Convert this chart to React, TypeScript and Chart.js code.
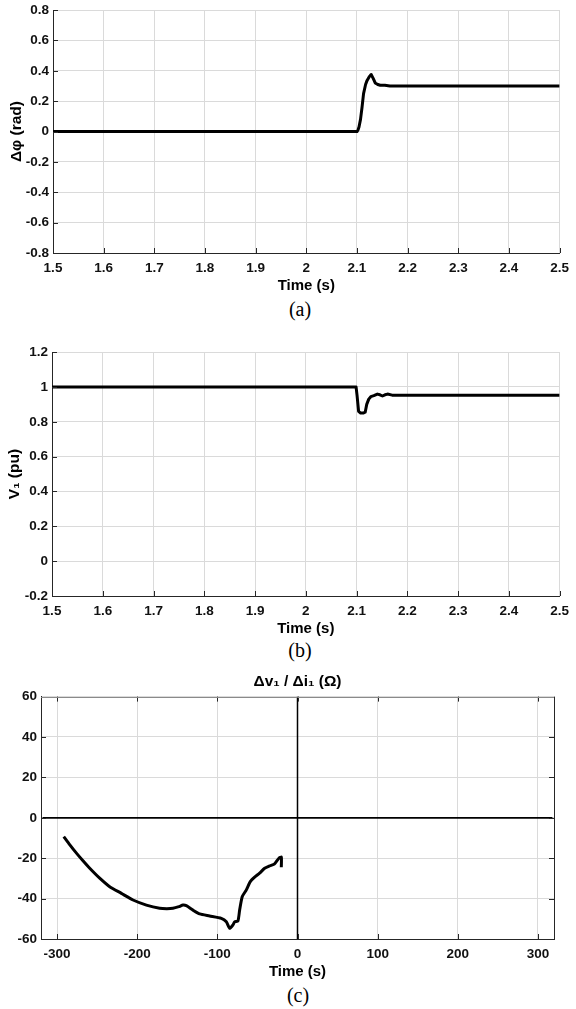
import React, { useEffect, useRef } from "react";
import { Chart, registerables } from "chart.js";

Chart.register(...registerables);

// ---------- data ----------
const phaseTime = [1.5, 2.1, 2.102, 2.104, 2.107, 2.11, 2.113, 2.117, 2.12, 2.124, 2.128, 2.132, 2.136, 2.141, 2.146, 2.155, 2.165, 2.2, 2.5];
const phaseValues = [0, 0, 0.01, 0.03, 0.08, 0.16, 0.25, 0.31, 0.337, 0.36, 0.376, 0.35, 0.32, 0.31, 0.305, 0.305, 0.3, 0.3, 0.3];

const voltTime = [1.5, 2.099, 2.101, 2.104, 2.108, 2.113, 2.117, 2.12, 2.124, 2.128, 2.134, 2.141, 2.146, 2.151, 2.156, 2.161, 2.17, 2.5];
const voltValues = [1, 1, 0.95, 0.86, 0.85, 0.85, 0.855, 0.9, 0.93, 0.944, 0.95, 0.959, 0.955, 0.948, 0.955, 0.959, 0.953, 0.953];

const impX = [-291.6, -284, -275.8, -267.6, -259.2, -246.8, -234.3, -219.7, -205.2, -188.5, -172, -163, -155.4, -148, -142.9, -138.7, -130.4, -122, -109.6, -95, -88.8, -84.7, -80.5, -78.4, -74.3, -72.2, -68.9, -63.8, -58.9, -53.5, -47.3, -41, -34.8, -28.6, -23.2, -20.2, -20.2];
const impY = [-9.3, -13.4, -17.5, -21.3, -25, -29.9, -34.1, -37.4, -40.7, -43.2, -44.8, -45, -44.8, -44, -43.2, -43.5, -45.7, -47.6, -48.6, -49.8, -51.5, -54.7, -53, -51.5, -51, -45.7, -39, -35.7, -31.6, -29.4, -27.4, -25, -23.8, -22.8, -20, -19.5, -24.5];

const zeroLineX = [-318, 318];
const zeroLineY = [-60, 60];

const timeRange = [1.5, 2.5];
const phaseRange = [-0.8, 0.8];
const voltRange = [-0.2, 1.2];
const impXRange = [-320, 320];
const impYRange = [-60, 60];

const captions = ["(a)", "(b)", "(c)"];

// ---------- styles ----------
const FONT = "'Liberation Sans', Arial, 'DejaVu Sans', sans-serif";
const GRID = "#dadada";
const AXIS = "#262626";

const fmt = (v: number) => String(Math.round(v * 100) / 100);

const inwardTicks = {
  id: "inwardTicks",
  afterDatasetsDraw(chart: any, _args: any, opts: any) {
    const { ctx, chartArea: a, scales } = chart;
    const len = 5;
    ctx.save();
    ctx.strokeStyle = AXIS;
    ctx.lineWidth = 1;
    const seg = (x1: number, y1: number, x2: number, y2: number) => {
      ctx.beginPath();
      ctx.moveTo(x1, y1);
      ctx.lineTo(x2, y2);
      ctx.stroke();
    };
    const xs = scales.x;
    const ys = scales.y;
    xs.ticks.forEach((t: any) => {
      const px = Math.round(xs.getPixelForValue(t.value)) + 0.5;
      seg(px, a.bottom, px, a.bottom - len);
      if (opts && opts.box) seg(px, a.top, px, a.top + len);
    });
    ys.ticks.forEach((t: any) => {
      const py = Math.round(ys.getPixelForValue(t.value)) + 0.5;
      seg(a.left, py, a.left + len, py);
      if (opts && opts.box) seg(a.right, py, a.right - len, py);
    });
    if (opts && opts.box) {
      seg(Math.round(a.right) + 0.5, a.top, Math.round(a.right) + 0.5, a.bottom);
      ctx.strokeStyle = "#8a8a8a";
      seg(a.left, Math.round(a.top) + 0.5, a.right, Math.round(a.top) + 0.5);
    }
    ctx.restore();
  },
};

function xAxis(min: number, max: number, step: number) {
  return {
    type: "linear",
    min,
    max,
    afterFit: (s: any) => {
      s.height = 42;
    },
    ticks: {
      stepSize: step,
      includeBounds: false,
      padding: 7,
      maxRotation: 0,
      autoSkip: false,
      color: "#111",
      font: { family: FONT, size: 13.5, weight: "bold" },
      callback: (v: any) => fmt(Number(v)),
    },
    grid: { color: GRID, lineWidth: 1, drawTicks: false },
    border: { display: true, color: AXIS, width: 1 },
    title: {
      display: true,
      text: "Time (s)",
      color: "#000",
      font: { family: FONT, size: 15, weight: "bold" },
      padding: { top: 1, bottom: 0 },
    },
  };
}

function yAxis(min: number, max: number, step: number, width: number, title: string | null, titlePad: number) {
  return {
    type: "linear",
    min,
    max,
    afterFit: (s: any) => {
      s.width = width;
    },
    ticks: {
      stepSize: step,
      includeBounds: false,
      padding: 4,
      color: "#111",
      font: { family: FONT, size: 13.5, weight: "bold" },
      callback: (v: any) => fmt(Number(v)),
    },
    grid: { color: GRID, lineWidth: 1, drawTicks: false },
    border: { display: true, color: AXIS, width: 1 },
    title: title
      ? {
          display: true,
          text: title,
          color: "#000",
          font: { family: FONT, size: 15.5, weight: "bold" },
          padding: { top: titlePad, bottom: 0 },
        }
      : { display: false },
  };
}

function pairs(xs: number[], ys: number[]) {
  return xs.map((x, i) => ({ x, y: ys[i] }));
}

function ChartCanvas({ top, height, config }: { top: number; height: number; config: () => any }) {
  const ref = useRef<HTMLCanvasElement | null>(null);
  useEffect(() => {
    if (!ref.current) return;
    const chart = new Chart(ref.current, config());
    return () => chart.destroy();
  }, []);
  return (
    <canvas
      ref={ref}
      width={576}
      height={height}
      style={{ position: "absolute", left: 0, top, width: 576, height }}
    />
  );
}

const lineDs = (data: any[], width: number, tension = 0) => ({
  data,
  borderColor: "#000",
  backgroundColor: "#000",
  borderWidth: width,
  pointRadius: 0,
  tension,
  fill: false,
  borderJoinStyle: "round",
});

function configA() {
  return {
    type: "line",
    data: { datasets: [lineDs(pairs(phaseTime, phaseValues), 3)] },
    plugins: [inwardTicks],
    options: {
      animation: false,
      responsive: false,
      layout: { padding: { top: 0, right: 9, left: 0, bottom: 0 } },
      plugins: { legend: { display: false }, tooltip: { enabled: false }, inwardTicks: { box: false } },
      scales: {
        x: xAxis(timeRange[0], timeRange[1], 0.1),
        y: yAxis(phaseRange[0], phaseRange[1], 0.2, 53, "Δφ (rad)", 7),
      },
    },
  };
}

function configB() {
  return {
    type: "line",
    data: { datasets: [lineDs(pairs(voltTime, voltValues), 3)] },
    plugins: [inwardTicks],
    options: {
      animation: false,
      responsive: false,
      layout: { padding: { top: 0, right: 10, left: 0, bottom: 0 } },
      plugins: { legend: { display: false }, tooltip: { enabled: false }, inwardTicks: { box: false } },
      scales: {
        x: xAxis(timeRange[0], timeRange[1], 0.1),
        y: yAxis(voltRange[0], voltRange[1], 0.2, 52, "V₁ (pu)", 5),
      },
    },
  };
}

function configC() {
  return {
    type: "line",
    data: {
      datasets: [
        lineDs(pairs(zeroLineX, [0, 0]), 1.8),
        lineDs(pairs([0, 0], zeroLineY), 1.5),
        lineDs(pairs(impX, impY), 3, 0.2),
      ],
    },
    plugins: [inwardTicks],
    options: {
      animation: false,
      responsive: false,
      layout: { padding: { top: 0, right: 22, left: 0, bottom: 0 } },
      plugins: {
        legend: { display: false },
        tooltip: { enabled: false },
        inwardTicks: { box: true },
        title: {
          display: true,
          text: "Δv₁ / Δi₁ (Ω)",
          fullSize: false,
          color: "#000",
          font: { family: FONT, size: 15.5, weight: "bold" },
          padding: { top: 3, bottom: 6 },
        },
      },
      scales: {
        x: xAxis(impXRange[0], impXRange[1], 100),
        y: yAxis(impYRange[0], impYRange[1], 20, 41, null, 0),
      },
    },
  };
}

const captionStyle = (centerY: number): React.CSSProperties => ({
  position: "absolute",
  left: 0,
  width: 600,
  top: centerY - 12,
  height: 20,
  lineHeight: "20px",
  textAlign: "center",
  fontFamily: "'Liberation Serif', 'Times New Roman', serif",
  fontSize: 20,
  color: "#000",
});

export default function App() {
  return (
    <div style={{ position: "absolute", left: 0, top: 0, width: 576, height: 1009, background: "#fff", overflow: "hidden" }}>
      <ChartCanvas top={-2} height={297} config={configA} />
      <ChartCanvas top={340} height={298} config={configB} />
      <ChartCanvas top={669} height={312} config={configC} />
      <div style={captionStyle(311)}>{captions[0]}</div>
      <div style={captionStyle(652)}>{captions[1]}</div>
      <div style={{ ...captionStyle(997), width: 596 }}>{captions[2]}</div>
    </div>
  );
}
